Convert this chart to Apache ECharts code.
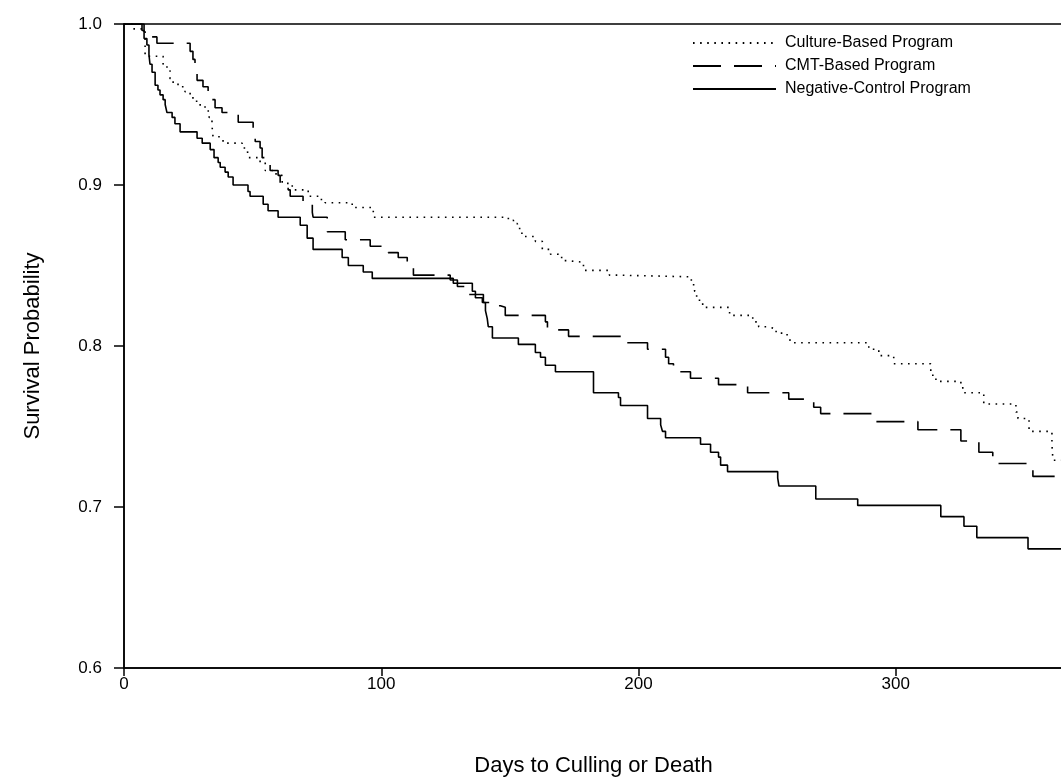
<!DOCTYPE html>
<html>
<head>
<meta charset="utf-8">
<script src="https://cdn.jsdelivr.net/npm/echarts@6/dist/echarts.min.js"></script>
<style>html,body{margin:0;padding:0;background:#fff}#c{width:1061px;height:783px}</style>
</head>
<body>
<div id="c"></div>
<script>
// Negative-Control Program (solid)
const negDays = [0,7.0,7.8,8.9,9.7,10.1,10.9,12.1,13.2,14.0,15.2,16.0,16.7,18.7,19.8,21.8,28.4,30.4,33.5,35.0,36.6,37.4,39.3,40.5,42.4,48.2,49.0,54.1,56.0,59.9,68.5,71.2,73.5,84.8,87.2,93.0,96.5,128.0,135.4,136.6,139.3,140.5,141.2,141.6,143.2,153.3,159.9,161.9,163.8,167.7,182.5,192.2,193.0,203.5,208.6,209.3,210.5,224.1,228.0,231.1,231.9,234.6,254.1,254.6,268.9,285.2,317.5,326.5,331.5,351.4,365];
const negSurv = [1.000,0.996,0.991,0.987,0.981,0.975,0.970,0.962,0.959,0.956,0.953,0.950,0.945,0.942,0.938,0.933,0.929,0.926,0.922,0.917,0.914,0.911,0.908,0.905,0.900,0.896,0.893,0.888,0.884,0.880,0.875,0.867,0.860,0.855,0.850,0.846,0.842,0.839,0.834,0.830,0.827,0.822,0.817,0.812,0.805,0.801,0.796,0.793,0.788,0.784,0.771,0.768,0.763,0.755,0.751,0.747,0.743,0.739,0.734,0.731,0.726,0.722,0.718,0.713,0.705,0.701,0.694,0.688,0.681,0.674,0.674];

// CMT-Based Program (dashed)
const cmtDays = [0,7.8,12.8,25.7,26.8,27.6,28.4,30.7,32.7,34.2,35.4,38.1,44.4,50.2,51.0,52.9,53.7,56.0,56.8,59.9,60.7,63.8,64.6,69.6,73.2,73.5,79.0,86.0,95.7,102.7,106.6,110.1,111.3,112.5,126.8,129.6,132.7,139.7,143.2,146.3,148.2,163.8,164.6,172.8,194.9,203.5,210.5,211.7,213.6,220.2,231.1,242.4,258.4,268.1,270.8,292.2,308.6,325.3,332.3,337.7,353.3,365];
const cmtSurv = [1.000,0.992,0.988,0.983,0.978,0.970,0.965,0.961,0.957,0.953,0.948,0.945,0.939,0.934,0.927,0.923,0.917,0.914,0.909,0.906,0.901,0.897,0.893,0.888,0.883,0.880,0.871,0.866,0.862,0.858,0.855,0.852,0.849,0.844,0.841,0.837,0.832,0.827,0.825,0.824,0.819,0.815,0.810,0.806,0.802,0.798,0.793,0.789,0.784,0.780,0.776,0.771,0.767,0.762,0.758,0.753,0.748,0.741,0.734,0.727,0.719,0.719];

// Culture-Based Program (dotted)
const culDays = [0,3.5,8.2,15.2,16.7,17.9,19.1,21.0,23.7,25.7,26.8,29.6,31.5,33.1,34.2,34.6,37.4,38.5,45.9,47.9,48.2,52.9,54.9,59.1,61.5,65.4,71.6,76.3,78.2,88.7,96.9,149.4,151.4,152.9,154.1,155.3,159.9,162.6,165.8,168.9,170.8,172.4,178.6,188.7,191.8,219.8,221.0,221.8,222.6,223.7,225.7,235.4,244.4,246.7,250.2,252.5,255.6,258.4,259.1,289.5,293.4,299.2,313.6,314.4,315.6,325.3,326.5,334.2,346.7,347.5,351.8,360.7,361.1,365];
const culSurv = [1.000,0.997,0.980,0.975,0.971,0.966,0.963,0.961,0.958,0.956,0.952,0.949,0.946,0.942,0.937,0.930,0.929,0.926,0.923,0.922,0.917,0.914,0.909,0.906,0.901,0.897,0.893,0.891,0.889,0.886,0.880,0.878,0.876,0.873,0.870,0.868,0.865,0.860,0.857,0.855,0.853,0.852,0.847,0.844,0.843,0.841,0.838,0.834,0.829,0.826,0.824,0.819,0.815,0.812,0.811,0.809,0.807,0.806,0.802,0.798,0.794,0.789,0.784,0.780,0.778,0.774,0.771,0.764,0.759,0.755,0.747,0.739,0.729,0.729];

const seriesNames = ['Culture-Based Program','CMT-Based Program','Negative-Control Program'];
const xTicks = [0,100,200,300];
const yTicks = [0.6,0.7,0.8,0.9,1.0];

const zip = (a,b) => a.map((v,i)=>[v,b[i]]);
const FONT = '"Liberation Sans", Arial, sans-serif';

const chart = echarts.init(document.getElementById('c'), null, {renderer:'canvas'});
chart.setOption({
  animation:false,
  backgroundColor:'#fff',
  textStyle:{fontFamily:FONT,color:'#000'},
  grid:{left:124, top:24, right:-2, bottom:115, show:true, borderColor:'#000', borderWidth:1.5,
        outerBoundsMode:'none', containLabel:false},
  legend:{
    data:seriesNames, orient:'vertical', left:687, top:30,
    itemWidth:83, itemHeight:10, itemGap:7,
    itemStyle:{opacity:0},
    textStyle:{fontFamily:FONT, fontSize:16, color:'#000', padding:[0,0,0,4]}
  },
  xAxis:{
    type:'value', min:0, max:365, interval:100,
    name:'Days to Culling or Death', nameLocation:'middle', nameGap:87,
    nameTextStyle:{fontFamily:FONT,fontSize:22,color:'#000'},
    axisLine:{show:true,lineStyle:{color:'#000',width:1.5}},
    axisTick:{show:true,length:8,lineStyle:{color:'#000',width:1.5}},
    axisLabel:{fontFamily:FONT,fontSize:17,color:'#000',margin:8,
      formatter:v => xTicks.includes(v) ? String(v) : ''},
    splitLine:{show:false}
  },
  yAxis:{
    type:'value', min:0.6, max:1.0, interval:0.1,
    name:'Survival Probability', nameLocation:'middle', nameGap:80,
    nameTextStyle:{fontFamily:FONT,fontSize:22,color:'#000'},
    axisLine:{show:true,lineStyle:{color:'#000',width:1.5}},
    axisTick:{show:true,length:10,lineStyle:{color:'#000',width:1.5}},
    axisLabel:{fontFamily:FONT,fontSize:17,color:'#000',margin:22,
      formatter:v => v.toFixed(1)},
    splitLine:{show:false}
  },
  series:[
    {name:seriesNames[0], type:'line', step:'end', showSymbol:false, symbol:'none',
     data:zip(culDays,culSurv), lineStyle:{color:'#000',width:1.6,type:[1.6,5.5]}, itemStyle:{color:'#000'}},
    {name:seriesNames[1], type:'line', step:'end', showSymbol:false, symbol:'none',
     data:zip(cmtDays,cmtSurv), lineStyle:{color:'#000',width:1.6,type:[28,13]}, itemStyle:{color:'#000'}},
    {name:seriesNames[2], type:'line', step:'end', showSymbol:false, symbol:'none',
     data:zip(negDays,negSurv), lineStyle:{color:'#000',width:1.6,type:'solid'}, itemStyle:{color:'#000'}}
  ]
});
</script>
</body>
</html>
